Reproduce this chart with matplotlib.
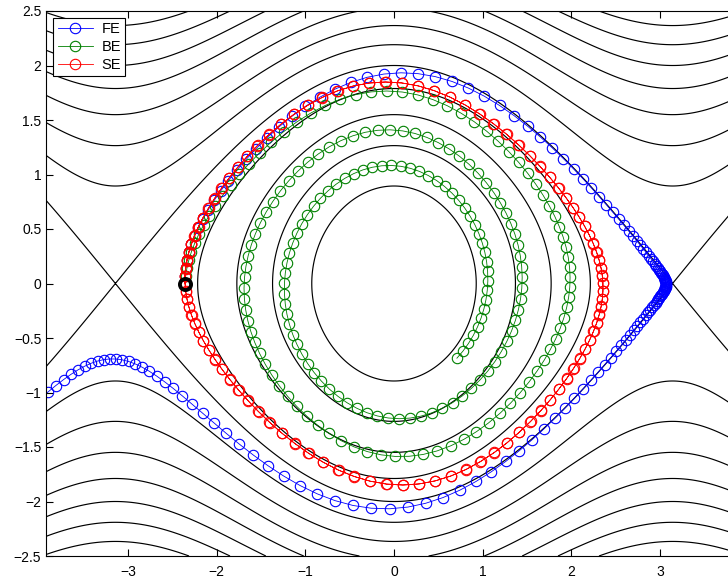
import numpy as np
import matplotlib
matplotlib.use("Agg")
import matplotlib.pyplot as plt

# ---- data / parameters ----
q_start = -3 * np.pi / 4      # black circle: starting point (q, p)
p_start = 0.0
step_h = 0.1
n_steps = 200
energy_levels = [-0.6, -0.2, 0.2, 0.6, 1.0, 1.4, 1.8, 2.2, 2.6, 3.0, 3.4, 3.8, 4.2]
series_names = ["FE", "BE", "SE"]
series_colors = ["#0000ff", "#008000", "#ff0000"]
x_ticks = [-3, -2, -1, 0, 1, 2, 3]
y_ticks = [-2.5, -2, -1.5, -1, -0.5, 0, 0.5, 1, 1.5, 2, 2.5]
x_range = (-3.93, 3.93)
y_range = (-2.5, 2.5)


def forward_euler(q0, p0, h, n):
    q, p = [q0], [p0]
    for _ in range(n):
        qn, pn = q[-1], p[-1]
        q.append(qn + h * pn)
        p.append(pn - h * np.sin(qn))
    return np.array(q), np.array(p)


def backward_euler(q0, p0, h, n):
    q, p = [q0], [p0]
    for _ in range(n):
        qo, po = q[-1], p[-1]
        qn = qo
        for _ in range(50):
            f = qn - qo - h * (po - h * np.sin(qn))
            qn -= f / (1 + h * h * np.cos(qn))
        q.append(qn)
        p.append(po - h * np.sin(qn))
    return np.array(q), np.array(p)


def symplectic_euler(q0, p0, h, n):
    q, p = [q0], [p0]
    for _ in range(n):
        qn = q[-1] + h * p[-1]
        q.append(qn)
        p.append(p[-1] - h * np.sin(qn))
    return np.array(q), np.array(p)


trajs = [forward_euler(q_start, p_start, step_h, n_steps),
         backward_euler(q_start, p_start, step_h, n_steps),
         symplectic_euler(q_start, p_start, step_h, n_steps)]

plt.rcParams['font.family'] = ['Liberation Sans', 'DejaVu Sans']
plt.rcParams['axes.unicode_minus'] = True

fig = plt.figure(figsize=(7.28, 5.78), dpi=100)
W, H = 728, 578
left, right, top, bottom = 45.5, 742.5, 11, 556
ax = fig.add_axes([left / W, (H - bottom) / H, (right - left) / W, (bottom - top) / H])

Q, P = np.meshgrid(np.linspace(x_range[0], x_range[1], 600), np.linspace(y_range[0], y_range[1], 500))
Hm = P ** 2 / 2 - np.cos(Q)
ax.contour(Q, P, Hm, levels=energy_levels, colors='black', linewidths=0.85, linestyles='solid')

for (q, p), name, col in zip(trajs, series_names, series_colors):
    ax.plot(q, p, '-', color=col, lw=0.6, marker='o', markersize=7.5,
            markerfacecolor='none', markeredgecolor=col, markeredgewidth=0.8, label=name)

ax.plot([q_start], [p_start], 'o', markersize=8, markerfacecolor='none',
        markeredgecolor='black', markeredgewidth=2.8)

ax.set_xlim(*x_range)
ax.set_ylim(*y_range)
ax.set_xticks(x_ticks)
ax.set_xticklabels([f"{v:g}".replace("-", "\u2212") for v in x_ticks])
ax.set_yticks(y_ticks)
ax.set_yticklabels([f"{v:g}".replace("-", "\u2212") for v in y_ticks])
ax.tick_params(direction='in', length=5, width=0.8, labelsize=10, top=True, right=True)
ax.tick_params(axis='x', pad=6.5)
ax.tick_params(axis='y', pad=3)
for s in ax.spines.values():
    s.set_linewidth(0.8)

leg = ax.legend(loc='upper left', bbox_to_anchor=(0.011, 0.987), fontsize=10.5,
                frameon=True, fancybox=False, edgecolor='black', framealpha=1,
                borderpad=0.3, handlelength=2.4, handletextpad=0.6, labelspacing=0.25,
                borderaxespad=0)
leg.get_frame().set_linewidth(0.8)

fig.savefig("out.png", dpi=100)
